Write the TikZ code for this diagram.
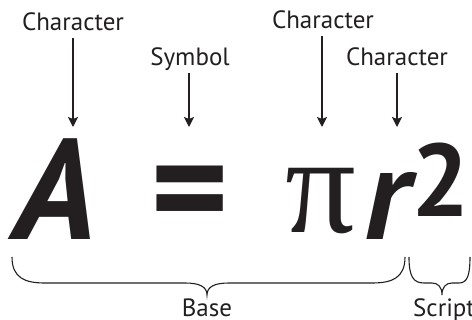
\documentclass[tikz,border=0pt]{standalone}
\usepackage{fontspec}
\setmainfont{PT Sans}
\newfontfamily\symfont{Liberation Serif}
\usepackage{xcolor}
\usetikzlibrary{arrows.meta,positioning,calc}
\definecolor{ink}{HTML}{231F20}

\begin{document}
\begin{tikzpicture}[
    x=1pt, y=-1pt,
    lbl/.style={text=ink, inner sep=2pt, text depth=5pt, font=\fontsize{25}{28}\selectfont},
    glyph/.style={text=ink, inner sep=0pt, anchor=base},
    arrow/.style={-{Stealth[length=10pt, width=10pt, inset=2pt]}, line width=1.2pt, draw=ink},
    brace/.style={line width=1.1pt, draw=ink}
]
    \useasboundingbox (0,0) rectangle (472,320);

    % the formula
    \node [glyph, font=\fontsize{143}{150}\selectfont\bfseries\itshape] (gA) at (55,240) {A};
    \node [glyph, font=\fontsize{150}{150}\selectfont\bfseries] (gEq) at (190,240) {=};
    \node [glyph, font=\fontsize{140}{150}\selectfont\symfont] (gPi) at (321,233) {π};
    \node [glyph, font=\fontsize{132}{150}\selectfont\bfseries\itshape] (gR) at (387,240) {r};
    \node [glyph, font=\fontsize{103}{110}\selectfont\bfseries] (gTwo) at (441,217) {2};

    % labels above
    \node [lbl, anchor=base] (c1) at (73,31) {Character};
    \node [lbl, anchor=base] (s1) at (190,66) {Symbol};
    \node [lbl, anchor=base] (c2) at (323,29) {Character};
    \node [lbl, anchor=base] (c3) at (397,66) {Character};

    \coordinate (e1) at (73,127);
    \coordinate (e2) at (189,127);
    \coordinate (e3) at (322,127);
    \coordinate (e4) at (397,127);

    \draw [arrow] (c1.south -| e1) -- (e1);
    \draw [arrow] (s1.south -| e2) -- (e2);
    \draw [arrow] (c2.south -| e3) -- (e3);
    \draw [arrow] (c3.south -| e4) -- (e4);

    % braces below
    \draw [brace] (12,257) .. controls (12,278) and (25,283) .. (45,283) -- (185,283)
        .. controls (200,283) and (207,287) .. (207,295)
        .. controls (207,287) and (214,283) .. (229,283) -- (372,283)
        .. controls (392,283) and (405,278) .. (405,257);
    \draw [brace] (409,257) .. controls (409,276) and (413,283) .. (424,283) -- (432,283)
        .. controls (438,283) and (442,287) .. (442,295)
        .. controls (442,287) and (446,283) .. (452,283) -- (459,283)
        .. controls (467,283) and (470,276) .. (470,257);

    \node [lbl, anchor=base] (base) at (207,317) {Base};
    \node [lbl, anchor=base west] (script) at (411,317) {Script};
\end{tikzpicture}
\end{document}
